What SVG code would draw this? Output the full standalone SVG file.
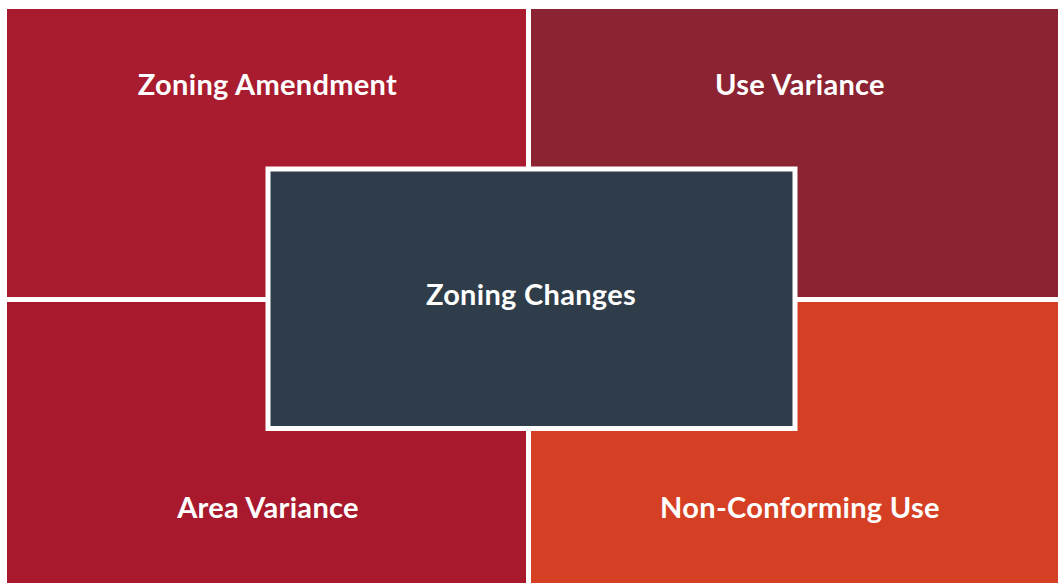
<svg xmlns="http://www.w3.org/2000/svg" width="1058" height="583" viewBox="0 0 1058 583">
  <style>
    .label { font-family: Lato, "Open Sans", "Liberation Sans", sans-serif; font-weight: 700; font-size: 29px; letter-spacing: 0.3px; fill: #ffffff; text-anchor: middle; }
  </style>
  <rect x="0" y="0" width="1058" height="583" fill="#ffffff"/>
  <g id="zoning-amendment">
    <rect x="7" y="9" width="519" height="288" fill="#a91b2e"/>
    <text class="label" x="267.5" y="95">Zoning Amendment</text>
  </g>
  <g id="use-variance">
    <rect x="531" y="9" width="527" height="288" fill="#8b2332"/>
    <text class="label" x="800" y="95">Use Variance</text>
  </g>
  <g id="area-variance">
    <rect x="7" y="302" width="519" height="281" fill="#a8192d"/>
    <text class="label" x="268" y="518">Area Variance</text>
  </g>
  <g id="non-conforming-use">
    <rect x="531" y="302" width="527" height="281" fill="#d54024"/>
    <text class="label" x="800" y="518">Non-Conforming Use</text>
  </g>
  <g id="zoning-changes">
    <rect x="268" y="169" width="527" height="259.5" fill="#2f3d4a" stroke="#ffffff" stroke-width="5"/>
    <text class="label" x="531" y="305">Zoning Changes</text>
  </g>
  <g id="connectors"></g>
</svg>
